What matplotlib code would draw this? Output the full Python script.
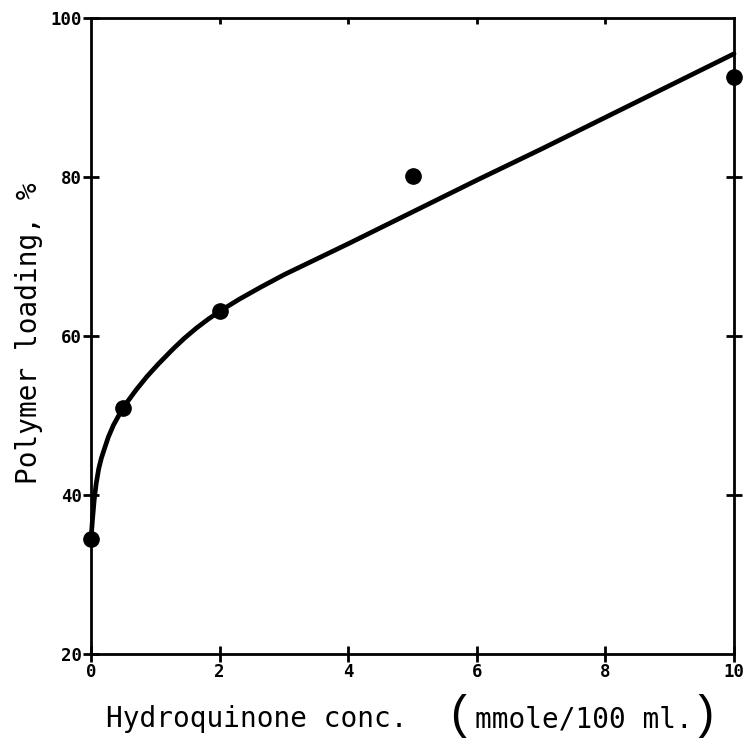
import matplotlib
matplotlib.use("Agg")
import matplotlib.pyplot as plt

# measured data points
conc = [0.0, 0.5, 2.0, 5.0, 10.0]
loading = [34.5, 51.0, 63.1, 80.1, 92.6]

# fitted curve
curve_x = [0.0, 0.02, 0.05, 0.08, 0.12, 0.16, 0.2, 0.27, 0.35, 0.5, 0.7, 0.87, 1.05, 1.28,
           1.45, 1.64, 1.82, 2.0, 2.3, 2.63, 3.0, 4.0, 5.0, 6.0, 7.0, 8.0, 9.0, 10.0]
curve_y = [34.3, 36.6, 39.4, 41.4, 43.3, 44.6, 45.6, 47.3, 48.8, 51.0, 53.2, 54.9, 56.5, 58.4,
           59.7, 61.0, 62.1, 63.1, 64.6, 66.1, 67.7, 71.6, 75.6, 79.6, 83.5, 87.5, 91.5, 95.5]

x_ticks = [0, 2, 4, 6, 8, 10]
y_ticks = [20, 40, 60, 80, 100]
top_ticks = [2, 4, 6, 8]
right_ticks = [40, 60, 80]

mono = "DejaVu Sans Mono"

fig = plt.figure(figsize=(7.47, 7.40), dpi=100)
ax = fig.add_axes([91/747, 86/740, 643/747, 636/740])

ax.plot(curve_x, curve_y, color="black", lw=3.4, solid_capstyle="round",
        solid_joinstyle="round", clip_on=False, zorder=3)
ax.plot(conc, loading, "o", color="black", ms=11, clip_on=False, zorder=4)

ax.set_xlim(0, 10)
ax.set_ylim(20, 100)
ax.set_xticks(x_ticks)
ax.set_yticks(y_ticks)
ax.set_xticklabels([str(v) for v in x_ticks], fontfamily=mono, fontweight="bold", fontsize=12.5)
ax.set_yticklabels([str(v) for v in y_ticks], fontfamily=mono, fontweight="bold", fontsize=12.5)

for s in ax.spines.values():
    s.set_linewidth(2.0)

ax.tick_params(axis="both", which="major", direction="inout", length=11, width=2, pad=1,
               top=False, right=False)

# top inward ticks and right cross ticks
ax_top = ax.secondary_xaxis("top")
ax_top.set_xticks(top_ticks)
ax_top.tick_params(direction="in", length=4, width=2, labeltop=False)
ax_top.spines["top"].set_visible(False)
ax_right = ax.secondary_yaxis("right")
ax_right.set_yticks(right_ticks)
ax_right.tick_params(direction="inout", length=11, width=2, labelright=False)
ax_right.spines["right"].set_visible(False)

fig.text(29/747, 1 - 333/740, "Polymer loading, %", fontfamily=mono, fontsize=20,
         rotation=90, ha="center", va="center")

base_y = 1 - 727/740
fig.text(106/747, base_y, "Hydroquinone conc.", fontfamily=mono, fontsize=20,
         ha="left", va="baseline")
fig.text(459/747, 1 - 716/740, "(", fontfamily="Liberation Mono", fontweight="normal",
         fontsize=34, ha="center", va="center")
fig.text(475/747, base_y, "mmole/100 ml.", fontfamily=mono, fontsize=20,
         ha="left", va="baseline")
fig.text(704/747, 1 - 716/740, ")", fontfamily="Liberation Mono", fontweight="normal",
         fontsize=34, ha="center", va="center")

fig.savefig("out.png", dpi=100)
